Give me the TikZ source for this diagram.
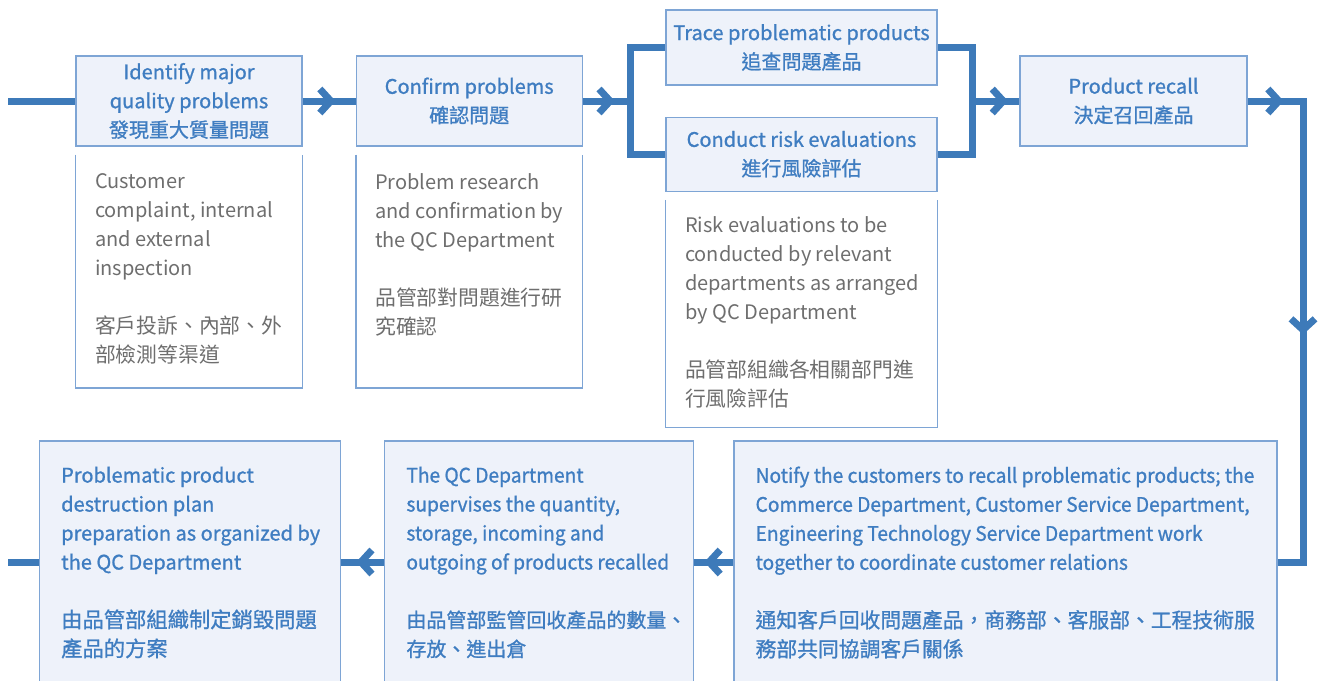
\documentclass[tikz,border=0pt]{standalone}
\usepackage{fontspec}
\setmainfont{Noto Sans CJK TC}
\newfontfamily\headfont{Noto Sans CJK TC}[FakeBold=1]
\usetikzlibrary{arrows.meta, positioning, calc, decorations.markings}
\definecolor{flowblue}{HTML}{3D7AB9}
\definecolor{boxfill}{HTML}{EEF2FA}
\definecolor{boxline}{HTML}{7EA5D5}
\definecolor{headblue}{HTML}{3F7DC1}
\definecolor{notegray}{HTML}{6E6E6E}
\newcommand{\cjkwide}[2][20.8]{{\fontsize{#1}{29}\selectfont #2}}
\newcommand{\squeezed}[1]{{\addfontfeature{FakeStretch=0.96}#1}}

\begin{document}
\begin{tikzpicture}[x=1pt, y=-1pt,
        node distance=8pt and 53pt,
        stage/.style={rectangle, draw=boxline, line width=1.2pt, fill=boxfill, inner sep=0pt,
            minimum width=226pt, minimum height=90pt, align=center, text=headblue,
            font=\headfont\fontsize{20}{29}\selectfont},
        notebox/.style={rectangle, inner sep=0pt, minimum width=226pt, minimum height=233pt},
        noteline/.style={draw=boxline, line width=1.2pt},
        notetext/.style={anchor=north west, inner sep=0pt, align=left, text=notegray,
            font=\fontsize{20}{29}\selectfont, execute at begin node={\rule{0pt}{20pt}}},
        actbox/.style={rectangle, draw=boxline, line width=1.2pt, fill=boxfill, inner sep=0pt,
            minimum height=242pt},
        acttext/.style={anchor=north west, inner sep=0pt, align=left, text=headblue,
            font=\headfont\fontsize{20}{29}\selectfont, execute at begin node={\rule{0pt}{20pt}}},
        flow/.style={draw=flowblue, line width=7pt},
        flowmark/.style={postaction={decorate, decoration={markings,
            mark=at position #1 with {\arrow{Straight Barb[length=11pt, width=24pt]}}}}},
    ]
    \clip (0,0) rectangle (1322,680);

    % top row
    \node[stage] (find) at (189,101) {Identify major\\quality problems\\發現重大質量問題};
    \node[stage, right=53pt of find] (confirm) {Confirm problems\\確認問題};
    \node[stage, minimum width=271pt, minimum height=75pt] (trace) at (801.5,47.5)
        {Trace problematic products\\追查問題產品};
    \node[stage, minimum width=271pt, minimum height=74pt, below=31pt of trace] (risk)
        {Conduct risk evaluations\\進行風險評估};
    \node[stage, minimum width=227pt] (recall) at (1133.5,101) {Product recall\\決定召回產品};

    % notes under the steps
    \node[notebox, below=of find] (findnote) {};
    \draw[noteline] (findnote.north west) -- (findnote.south west) -- (findnote.south east) -- (findnote.north east);
    \node[notetext] (findtxt) at ($(findnote.north west)+(19,19)$)
        {Customer\\complaint, internal\\and external\\inspection\\[29pt]\cjkwide{客戶投訴、內部、外}\\\cjkwide{部檢測等渠道}};

    \node[notebox, below=of confirm] (confnote) {};
    \draw[noteline] (confnote.north west) -- (confnote.south west) -- (confnote.south east) -- (confnote.north east);
    \node[notetext] (conftxt) at ($(confnote.north west)+(19,19)$)
        {Problem research\\and confirmation by\\the QC Department\\[29pt]\cjkwide{品管部對問題進行研}\\\cjkwide{究確認}};

    \node[notebox, minimum width=271pt, minimum height=227pt, below=of risk] (risknote) {};
    \draw[noteline] (risknote.north west) -- (risknote.south west) -- (risknote.south east) -- (risknote.north east);
    \node[notetext] (risktxt) at ($(risknote.north west)+(19,17)$)
        {Risk evaluations to be\\conducted by relevant\\departments as arranged\\by QC Department\\[29pt]\cjkwide{品管部組織各相關部門進}\\\cjkwide{行風險評估}};

    % bottom row
    \node[actbox, minimum width=543pt] (notify) at (1005.5,562) {};
    \node[actbox, minimum width=309pt, left=39pt of notify] (supervise) {};
    \node[actbox, minimum width=301pt, left=43pt of supervise] (destroy) {};
    \node[acttext] (notifytxt) at ($(notify.north west)+(22,26)$)
        {\squeezed{Notify the customers to recall problematic products; the}\\
         \squeezed{Commerce Department, Customer Service Department,}\\
         \squeezed{Engineering Technology Service Department work}\\
         \squeezed{together to coordinate customer relations}\\[29pt]
         \cjkwide{通知客戶回收問題產品，商務部、客服部、工程技術服}\\\cjkwide{務部共同協調客戶關係}};
    \node[acttext] (supervisetxt) at ($(supervise.north west)+(22,26)$)
        {\squeezed{The QC Department}\\\squeezed{supervises the quantity,}\\
         \squeezed{storage, incoming and}\\\squeezed{outgoing of products recalled}\\[29pt]
         \cjkwide[20]{由品管部監管回收產品的數量、}\\\cjkwide[20]{存放、進出倉}};
    \node[acttext] (destroytxt) at ($(destroy.north west)+(22,26)$)
        {Problematic product\\destruction plan\\preparation as organized by\\the QC Department\\[29pt]
         \cjkwide[21.3]{由品管部組織制定銷毀問題}\\\cjkwide[21.3]{產品的方案}};

    % connectors
    \coordinate (inlet) at (8,101);
    \coordinate (forkL) at (630,101);
    \coordinate (forkR) at (972,101);
    \coordinate (turnA) at (1303,101);
    \coordinate (turnB) at (1303,562);
    \coordinate (outlet) at (8,562);

    \draw[flow] (inlet) -- (find.west);
    \draw[flow, flowmark=33pt] (find.east) -- (confirm.west);
    \draw[flow, flowmark=32pt] (confirm.east) -- (forkL);
    \draw[flow] (forkL) |- (trace.west);
    \draw[flow] (forkL) |- (risk.west);
    \draw[flow] (trace.east) -| (forkR);
    \draw[flow] (risk.east) -| (forkR);
    \draw[flow, flowmark=36pt] (forkR) -- (recall.west);
    \draw[flow, flowmark=36pt, flowmark=289pt] (recall.east) -- (turnA) -- (turnB) -- (notify.east);
    \draw[flow, flowmark=29pt] (notify.west) -- (supervise.east);
    \draw[flow, flowmark=28pt] (supervise.west) -- (destroy.east);
    \draw[flow] (destroy.west) -- (outlet);
\end{tikzpicture}
\end{document}
